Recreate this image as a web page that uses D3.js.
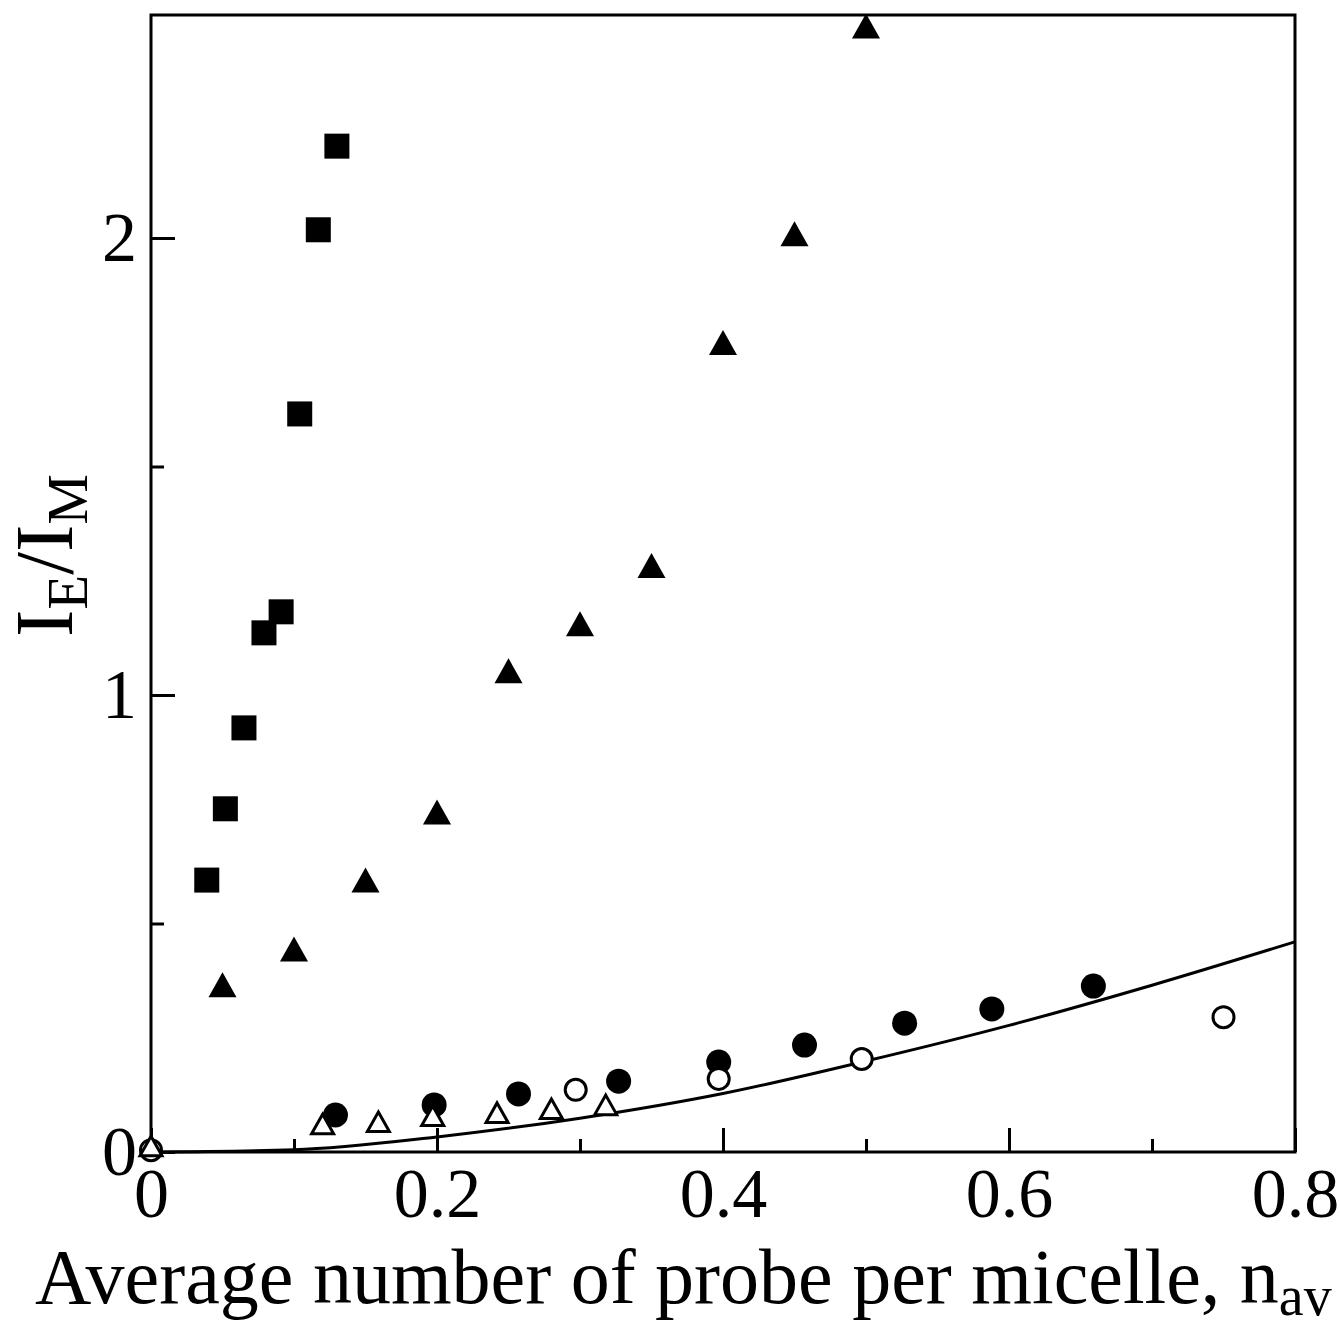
<!DOCTYPE html>
<html>
<head>
<meta charset="utf-8">
<script src="https://cdn.jsdelivr.net/npm/d3@7"></script>
<style>
  html, body { margin: 0; padding: 0; background: #fff; }
  svg { display: block; }
</style>
</head>
<body>
<svg id="chart" width="1340" height="1327"></svg>
<script>
// ---- data ----
const squaresX = [0.039, 0.052, 0.065, 0.079, 0.091, 0.104, 0.117, 0.130];
const squaresY = [0.595, 0.751, 0.928, 1.136, 1.182, 1.615, 2.018, 2.201];

const filledTriX = [0.05, 0.10, 0.15, 0.20, 0.25, 0.30, 0.35, 0.40, 0.45, 0.50];
const filledTriY = [0.357, 0.435, 0.586, 0.735, 1.044, 1.147, 1.274, 1.762, 2.000, 2.455];

const filledCircX = [0.129, 0.198, 0.257, 0.327, 0.397, 0.457, 0.527, 0.588, 0.659];
const filledCircY = [0.081, 0.103, 0.127, 0.155, 0.197, 0.234, 0.282, 0.313, 0.363];

const openCircX = [0, 0.297, 0.397, 0.497, 0.750];
const openCircY = [0.004, 0.136, 0.160, 0.2035, 0.295];

const openTriX = [0, 0.120, 0.159, 0.197, 0.242, 0.280, 0.318];
const openTriY = [0.006, 0.054, 0.059, 0.072, 0.079, 0.0875, 0.096];

const curveX = [0, 0.1, 0.2, 0.3, 0.4, 0.5, 0.6, 0.7, 0.8];
const curveY = [0, 0.005, 0.033, 0.074, 0.128, 0.199, 0.277, 0.365, 0.46];

const xMajorTicks = [0, 0.2, 0.4, 0.6, 0.8];
const xMinorTicks = [0.1, 0.3, 0.5, 0.7];
const xTickLabels = ["0", "0.2", "0.4", "0.6", "0.8"];
const yMajorTicks = [0, 1, 2];
const yMinorTicks = [0.5, 1.5];
const yTickLabels = ["0", "1", "2"];

// ---- layout ----
const L = 151, R = 1295, T = 15, B = 1152;
const font = "'Liberation Serif', 'Times New Roman', serif";

const svg = d3.select("#chart");
const x = d3.scaleLinear().domain([0, 0.8]).range([L, R]);
const y = d3.scaleLinear().domain([0, (B - T) / 457]).range([B, T]);

const zip = (xs, ys) => xs.map((v, i) => [v, ys[i]]);

function styleAxis(g) {
  g.select(".domain").remove();
  g.selectAll(".tick line").attr("stroke", "#000").attr("stroke-width", 3);
  g.selectAll(".tick text").attr("fill", "#000")
    .style("font-family", font).style("font-size", "70px");
}

svg.append("g").attr("transform", `translate(0,${B})`)
  .call(d3.axisBottom(x).tickValues(xMinorTicks).tickSize(-13).tickFormat(""))
  .call(styleAxis);
svg.append("g").attr("transform", `translate(0,${B})`)
  .call(d3.axisBottom(x).tickValues(xMajorTicks).tickSize(-24).tickPadding(15)
        .tickFormat((d, i) => xTickLabels[i]))
  .call(styleAxis);

svg.append("g").attr("transform", `translate(${L},0)`)
  .call(d3.axisLeft(y).tickValues(yMinorTicks).tickSize(-13).tickFormat(""))
  .call(styleAxis);
svg.append("g").attr("transform", `translate(${L},0)`)
  .call(d3.axisLeft(y).tickValues(yMajorTicks).tickSize(-24).tickPadding(14)
        .tickFormat((d, i) => yTickLabels[i]))
  .call(styleAxis);

// frame
svg.append("rect")
  .attr("x", L).attr("y", T).attr("width", R - L).attr("height", B - T)
  .attr("fill", "none").attr("stroke", "#000").attr("stroke-width", 3);

// fitted curve
svg.append("path")
  .datum(zip(curveX, curveY))
  .attr("fill", "none").attr("stroke", "#000").attr("stroke-width", 3)
  .attr("d", d3.line().x(d => x(d[0])).y(d => y(d[1])).curve(d3.curveMonotoneX));

function tri(w, h) {
  return `M0,${-2 * h / 3}L${w / 2},${h / 3}L${-w / 2},${h / 3}Z`;
}

// filled squares
svg.append("g").selectAll("rect").data(zip(squaresX, squaresY)).join("rect")
  .attr("x", d => x(d[0]) - 12.5).attr("y", d => y(d[1]) - 12.5)
  .attr("width", 25).attr("height", 25).attr("fill", "#000");

// filled triangles
svg.append("g").selectAll("path").data(zip(filledTriX, filledTriY)).join("path")
  .attr("transform", d => `translate(${x(d[0])},${y(d[1])})`)
  .attr("d", tri(28, 25)).attr("fill", "#000");

// filled circles
svg.append("g").selectAll("circle").data(zip(filledCircX, filledCircY)).join("circle")
  .attr("cx", d => x(d[0])).attr("cy", d => y(d[1])).attr("r", 12.5).attr("fill", "#000");

// open circles
svg.append("g").selectAll("circle").data(zip(openCircX, openCircY)).join("circle")
  .attr("cx", d => x(d[0])).attr("cy", d => y(d[1])).attr("r", 10.5)
  .attr("fill", "#fff").attr("stroke", "#000").attr("stroke-width", 3);

// open triangles
svg.append("g").selectAll("path").data(zip(openTriX, openTriY)).join("path")
  .attr("transform", d => `translate(${x(d[0])},${y(d[1])})`)
  .attr("d", tri(22, 19.5))
  .attr("fill", "#fff").attr("stroke", "#000").attr("stroke-width", 3);

// x-axis title
const xt = svg.append("text")
  .attr("x", 35).attr("y", 1303)
  .style("font-family", font).style("font-size", "78px").attr("fill", "#000");
xt.append("tspan").text("Average number of probe per micelle, n");
xt.append("tspan").attr("dy", 12).style("font-size", "56px").text("av");

// y-axis title
const yt = svg.append("text")
  .attr("transform", "translate(72,637) rotate(-90)")
  .style("font-family", font).style("font-size", "82px").attr("fill", "#000");
yt.append("tspan").text("I");
yt.append("tspan").attr("dy", 15).style("font-size", "57px").text("E");
yt.append("tspan").attr("dy", -15).text("/I");
yt.append("tspan").attr("dy", 15).style("font-size", "57px").text("M");
</script>
</body>
</html>
